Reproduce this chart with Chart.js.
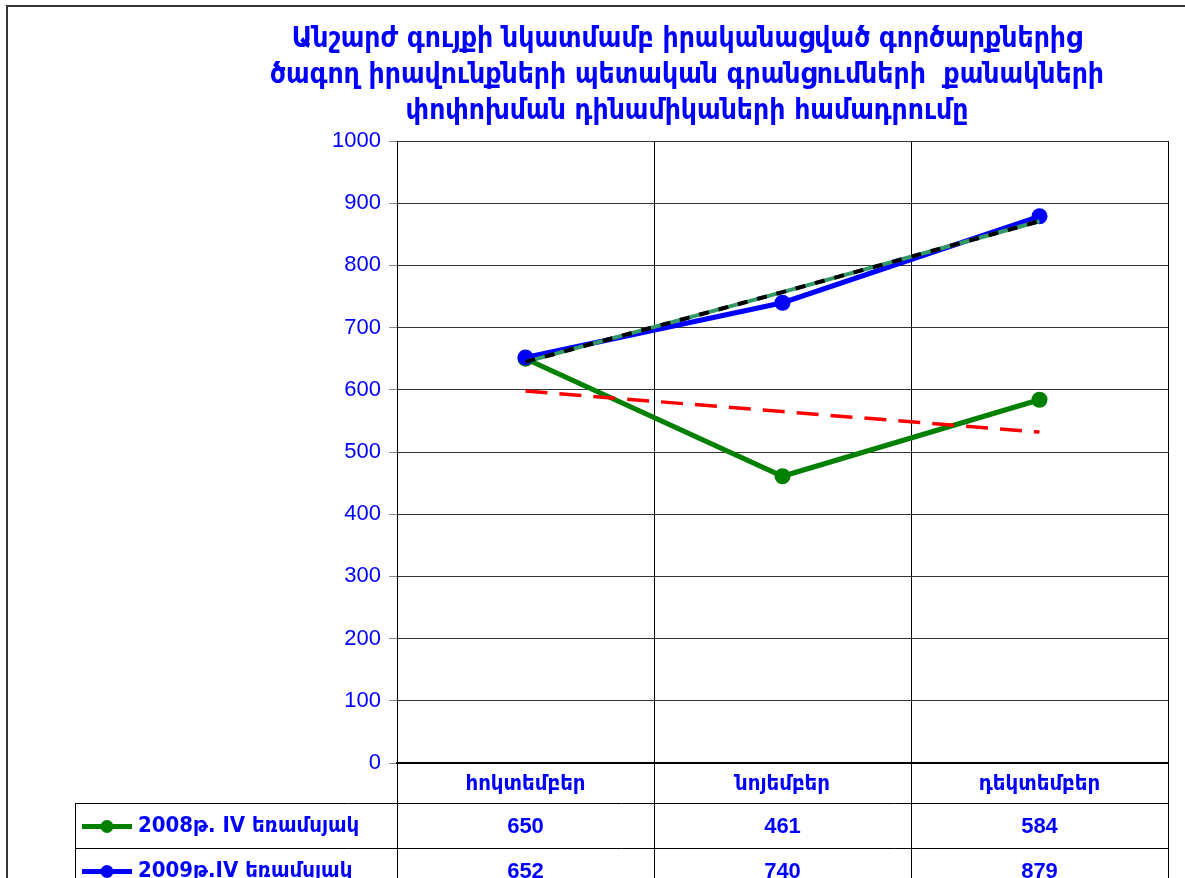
<!DOCTYPE html>
<html>
<head>
<meta charset="utf-8">
<script src="https://cdn.jsdelivr.net/npm/chart.js@4.4.0/dist/chart.umd.min.js"></script>
<style>
  html, body { margin: 0; padding: 0; background: #fff; }
  #wrap { width: 1185px; height: 878px; overflow: hidden; }
</style>
</head>
<body>
<div id="wrap"><canvas id="chart" width="1185" height="878"></canvas></div>
<script>
const titleLines = [
  'Անշարժ գույքի նկատմամբ իրականացված գործարքներից',
  'ծագող իրավունքների պետական գրանցումների  քանակների',
  'փոփոխման դինամիկաների համադրումը'
];
const months = ['հոկտեմբեր', 'նոյեմբեր', 'դեկտեմբեր'];
const seriesNames = ['2008թ. IV եռամսյակ', '2009թ.IV եռամսյակ'];
const values2008 = [650, 461, 584];
const values2009 = [652, 740, 879];
// trend lines
const trend2008 = [598, 565, 532];
const trend2009 = [645, 757, 871];
const yTicks = [0, 100, 200, 300, 400, 500, 600, 700, 800, 900, 1000];

const BLUE = '#0000ff';
const GREEN = '#008000';
const armFont = '"DejaVu Sans Condensed", "DejaVu Sans", sans-serif';

const tablePlugin = {
  id: 'tablePlugin',
  afterDraw(chart) {
    const ctx = chart.ctx;
    const x = chart.scales.x;
    const area = chart.chartArea;
    const step = x.getPixelForValue(1) - x.getPixelForValue(0);
    const bottom = area.bottom;
    const rowTop = [bottom, bottom + 40, bottom + 85, bottom + 130];
    const tableLeft = 75;

    ctx.save();
    // outer frame
    ctx.strokeStyle = '#333';
    ctx.lineWidth = 2;
    ctx.beginPath();
    ctx.moveTo(7, 878);
    ctx.lineTo(7, 6);
    ctx.lineTo(1185, 6);
    ctx.stroke();

    // title
    ctx.fillStyle = BLUE;
    ctx.font = 'bold 28px ' + armFont;
    ctx.textAlign = 'center';
    ctx.textBaseline = 'middle';
    titleLines.forEach((t, i) => ctx.fillText(t, 687, 40 + i * 36));

    // table grid
    ctx.strokeStyle = '#000';
    ctx.lineWidth = 1;
    ctx.beginPath();
    for (let i = 0; i <= months.length; i++) {
      const bx = Math.round(x.getPixelForValue(i) - step / 2) + 0.5;
      ctx.moveTo(bx, bottom);
      ctx.lineTo(bx, rowTop[3]);
    }
    ctx.moveTo(tableLeft + 0.5, rowTop[1]);
    ctx.lineTo(tableLeft + 0.5, rowTop[3]);
    for (let r = 1; r <= 3; r++) {
      ctx.moveTo(tableLeft, rowTop[r] + 0.5);
      ctx.lineTo(area.right, rowTop[r] + 0.5);
    }
    ctx.stroke();

    // month header
    ctx.fillStyle = BLUE;
    ctx.font = 'bold 22px ' + armFont;
    months.forEach((m, i) => {
      ctx.fillText(m, x.getPixelForValue(i), (rowTop[0] + rowTop[1]) / 2 + 1);
    });

    // data rows
    const rows = [values2008, values2009];
    const colors = [GREEN, BLUE];
    rows.forEach((vals, r) => {
      const cy = (rowTop[r + 1] + rowTop[r + 2]) / 2 + 1;
      // legend key
      ctx.strokeStyle = colors[r];
      ctx.lineWidth = 5;
      ctx.beginPath();
      ctx.moveTo(82, cy);
      ctx.lineTo(132, cy);
      ctx.stroke();
      ctx.fillStyle = colors[r];
      ctx.beginPath();
      ctx.arc(107, cy, 6.5, 0, Math.PI * 2);
      ctx.fill();

      ctx.fillStyle = BLUE;
      ctx.textAlign = 'left';
      ctx.font = 'bold 22px ' + armFont;
      ctx.fillText(seriesNames[r], 138, cy);

      ctx.textAlign = 'center';
      ctx.font = 'bold 22px "Liberation Sans", Arial, sans-serif';
      vals.forEach((v, i) => ctx.fillText(String(v), x.getPixelForValue(i), cy));
    });
    ctx.restore();
  }
};

const ctx = document.getElementById('chart').getContext('2d');
new Chart(ctx, {
  type: 'line',
  data: {
    labels: months,
    datasets: [
      {
        label: 'trend 2009 dashes',
        data: trend2009,
        borderColor: '#000',
        borderWidth: 4,
        borderDash: [10, 10],
        pointRadius: 0,
        order: 0
      },
      {
        label: 'trend 2009',
        data: trend2009,
        borderColor: '#339966',
        borderWidth: 4,
        pointRadius: 0,
        order: 1
      },
      {
        label: 'trend 2008',
        data: trend2008,
        borderColor: '#ff0000',
        borderWidth: 3.5,
        borderDash: [22, 12],
        pointRadius: 0,
        order: 2
      },
      {
        label: seriesNames[1],
        data: values2009,
        borderColor: BLUE,
        backgroundColor: BLUE,
        borderWidth: 5,
        pointRadius: 8,
        pointBorderWidth: 0,
        order: 3
      },
      {
        label: seriesNames[0],
        data: values2008,
        borderColor: GREEN,
        backgroundColor: GREEN,
        borderWidth: 5,
        pointRadius: 8,
        pointBorderWidth: 0,
        order: 4
      }
    ]
  },
  options: {
    responsive: false,
    animation: false,
    layout: { padding: { left: 0, right: 17, top: 141, bottom: 115 } },
    plugins: {
      legend: { display: false },
      title: { display: false },
      tooltip: { enabled: false }
    },
    scales: {
      x: {
        offset: true,
        grid: { offset: true, color: '#000', lineWidth: 1, drawTicks: false },
        border: { color: '#000', width: 2 },
        ticks: { display: false },
        afterFit(scale) { scale.height = 0; }
      },
      y: {
        min: 0,
        max: 1000,
        afterBuildTicks(scale) { scale.ticks = yTicks.map(v => ({ value: v })); },
        afterFit(scale) { scale.width = 397; },
        grid: { color: '#333', lineWidth: 1, tickLength: 8, tickColor: '#888' },
        border: { color: '#000', width: 1 },
        ticks: {
          color: BLUE,
          padding: 8,
          font: { family: '"Liberation Sans", Arial, sans-serif', size: 22 },
          callback: (v) => String(v)
        }
      }
    }
  },
  plugins: [tablePlugin]
});
</script>
</body>
</html>
